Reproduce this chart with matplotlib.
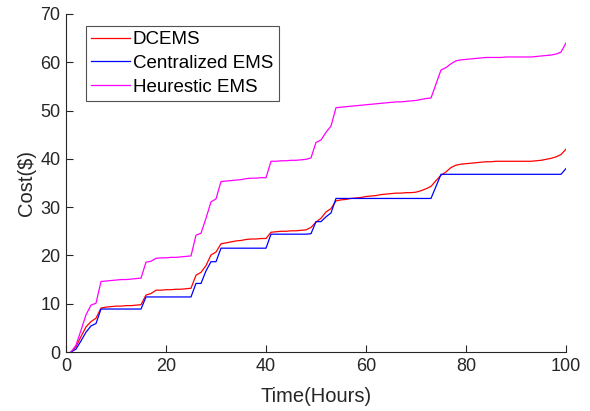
import matplotlib
matplotlib.use("Agg")
import matplotlib.pyplot as plt
import numpy as np

hours = list(range(1, 101))

dcems = [0, 1.1, 3.2, 5.2, 6.3, 7.0, 9.1, 9.3, 9.4, 9.5,
         9.5, 9.6, 9.6, 9.7, 9.8, 11.8, 12.1, 12.8, 12.8, 12.9,
         12.9, 13.0, 13.0, 13.1, 13.2, 15.9, 16.5, 17.9, 20.1, 20.7,
         22.4, 22.6, 22.8, 23.0, 23.1, 23.3, 23.4, 23.4, 23.5, 23.5,
         24.8, 24.9, 25.0, 25.0, 25.1, 25.1, 25.2, 25.3, 25.8, 26.9,
         27.7, 29.0, 29.7, 31.3, 31.5, 31.6, 31.8, 31.9, 32.0, 32.2,
         32.3, 32.4, 32.6, 32.7, 32.8, 32.9, 32.9, 33.0, 33.0, 33.1,
         33.4, 33.8, 34.3, 35.5, 36.6, 37.3, 38.2, 38.7, 38.9, 39.0,
         39.1, 39.2, 39.3, 39.4, 39.4, 39.5, 39.5, 39.5, 39.5, 39.5,
         39.5, 39.5, 39.5, 39.6, 39.7, 39.9, 40.1, 40.4, 40.9, 42.0]

centralized = [0, 0.6, 2.3, 4.1, 5.4, 5.9, 8.9, 8.9, 8.9, 8.9,
               8.9, 8.9, 8.9, 8.9, 8.9, 11.4, 11.4, 11.4, 11.4, 11.4,
               11.4, 11.4, 11.4, 11.4, 11.4, 14.2, 14.2, 16.8, 18.7, 18.7,
               21.5, 21.5, 21.5, 21.5, 21.5, 21.5, 21.5, 21.5, 21.5, 21.5,
               24.4, 24.4, 24.4, 24.4, 24.4, 24.4, 24.4, 24.4, 24.5, 27.0,
               27.0, 28.0, 28.8, 31.8, 31.8, 31.8, 31.8, 31.8, 31.8, 31.8,
               31.8, 31.8, 31.8, 31.8, 31.8, 31.8, 31.8, 31.8, 31.8, 31.8,
               31.8, 31.8, 31.8, 34.3, 36.8, 36.8, 36.8, 36.8, 36.8, 36.8,
               36.8, 36.8, 36.8, 36.8, 36.8, 36.8, 36.8, 36.8, 36.8, 36.8,
               36.8, 36.8, 36.8, 36.8, 36.8, 36.8, 36.8, 36.8, 36.8, 38.0]

heuristic = [0, 1.4, 4.5, 7.7, 9.7, 10.1, 14.6, 14.7, 14.8, 14.9,
             15.0, 15.0, 15.1, 15.2, 15.3, 18.6, 18.8, 19.4, 19.5, 19.5,
             19.6, 19.6, 19.7, 19.8, 19.9, 24.2, 24.6, 27.7, 31.1, 31.7,
             35.3, 35.4, 35.5, 35.6, 35.7, 35.9, 36.0, 36.0, 36.1, 36.1,
             39.5, 39.5, 39.6, 39.6, 39.7, 39.7, 39.8, 39.9, 40.2, 43.4,
             43.9, 45.5, 46.8, 50.6, 50.7, 50.8, 50.9, 51.0, 51.1, 51.2,
             51.3, 51.4, 51.5, 51.6, 51.7, 51.8, 51.8, 51.9, 52.0, 52.1,
             52.3, 52.5, 52.6, 55.5, 58.4, 58.9, 59.7, 60.3, 60.5, 60.6,
             60.7, 60.8, 60.9, 61.0, 61.0, 61.0, 61.0, 61.1, 61.1, 61.1,
             61.1, 61.1, 61.1, 61.2, 61.3, 61.4, 61.5, 61.7, 62.1, 64.0]

labels = ["DCEMS", "Centralized EMS", "Heurestic EMS"]
colors = ["#ff0000", "#0000ff", "#ff00ff"]

plt.rcParams['font.family'] = ['Liberation Sans', 'DejaVu Sans']
txt = "#262626"

fig = plt.figure(figsize=(5.9, 4.11), dpi=100)
ax = fig.add_axes([66/590, 59/411, 500/590, 338/411])

for y, lab, c in zip([dcems, centralized, heuristic], labels, colors):
    ax.plot(hours, y, color=c, linewidth=0.9, label=lab)

ax.set_xlim(0, 100)
ax.set_ylim(0, 70)
ax.set_xticks(np.arange(0, 101, 20))
ax.set_yticks(np.arange(0, 71, 10))
for s in ["top", "right"]:
    ax.spines[s].set_visible(False)
for s in ["left", "bottom"]:
    ax.spines[s].set_color(txt)
    ax.spines[s].set_linewidth(0.8)
ax.tick_params(direction="in", length=5, width=0.8, colors=txt, labelsize=13, labelcolor=txt, pad=4)
ax.set_xlabel("Time(Hours)", fontsize=14.5, color=txt, labelpad=9)
ax.set_ylabel("Cost($)", fontsize=14.5, color=txt, labelpad=3)

leg = ax.legend(loc="upper left", bbox_to_anchor=(0.039, 0.965), borderaxespad=0,
                fontsize=13.5, frameon=True, fancybox=False, handlelength=2.1,
                handletextpad=0.15, labelspacing=0.35, borderpad=0.28)
leg.get_frame().set_edgecolor(txt)
leg.get_frame().set_linewidth(0.8)

fig.savefig("out.png", dpi=100)
